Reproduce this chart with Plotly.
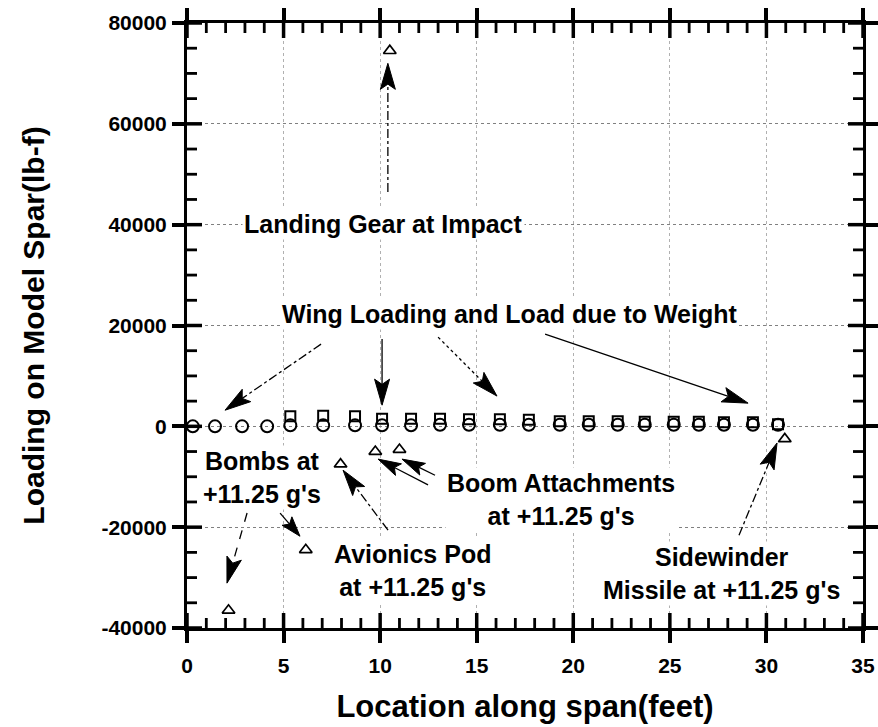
import math
import plotly.graph_objects as go

# ---------------- data ----------------
x_circle = [0.3, 1.45, 2.85, 4.15, 5.35, 7.05, 8.7, 10.1, 11.6, 13.1, 14.6,
            16.2, 17.7, 19.3, 20.8, 22.3, 23.7, 25.2, 26.5, 27.8, 29.3, 30.6]
y_circle = [0, 0, 0, 0, 200, 200, 200, 200, 200, 300, 300,
            300, 300, 300, 300, 300, 300, 300, 300, 300, 300, 300]

x_square = [5.35, 7.05, 8.7, 10.1, 11.6, 13.1, 14.6, 16.2, 17.7,
            19.3, 20.8, 22.3, 23.7, 25.2, 26.5, 27.8, 29.3, 30.6]
y_square = [2000, 2100, 2000, 1500, 1500, 1500, 1400, 1400, 1300,
            1000, 1000, 1000, 900, 900, 900, 800, 800, 400]

x_triangle = [2.15, 6.15, 7.95, 9.75, 10.5, 11.0, 30.95]
y_triangle = [-36500, -24500, -7500, -5000, 74500, -4600, -2500]

x_ticks = [0, 5, 10, 15, 20, 25, 30, 35]
x_tick_labels = ["0", "5", "10", "15", "20", "25", "30", "35"]
y_ticks = [-40000, -20000, 0, 20000, 40000, 60000, 80000]
y_tick_labels = ["-40000", "-20000", "0", "20000", "40000", "60000", "80000"]

x_title = "Location along span(feet)"
y_title = "Loading on Model Spar(lb-f)"

# ---------------- layout geometry ----------------
W, H = 878, 727
ML, MR, MT, MB = 187, 15, 23, 99
X_RANGE = [0, 35]
Y_RANGE = [-40000, 80000]
PW = W - ML - MR
PH = H - MT - MB
X_MINOR_STEP = 1
Y_MINOR_STEP = 5000

FONT = "Liberation Sans, Arial, Helvetica, sans-serif"


def to_px(x, y):
    px = ML + (x - X_RANGE[0]) / (X_RANGE[1] - X_RANGE[0]) * PW
    py = MT + (Y_RANGE[1] - y) / (Y_RANGE[1] - Y_RANGE[0]) * PH
    return px, py


def to_data(px, py):
    x = X_RANGE[0] + (px - ML) / PW * (X_RANGE[1] - X_RANGE[0])
    y = Y_RANGE[1] - (py - MT) / PH * (Y_RANGE[1] - Y_RANGE[0])
    return x, y


shapes = []

# ---------------- inner tick halves + minor ticks as data-referenced line shapes ----------------
MAJ_IN, MIN_IN = 15, 10
MAJ_W, MIN_W = 3.5, 2.8
dy_px = (Y_RANGE[1] - Y_RANGE[0]) / PH
dx_px = (X_RANGE[1] - X_RANGE[0]) / PW

x_all = [X_RANGE[0] + i * X_MINOR_STEP
         for i in range(int(round((X_RANGE[1] - X_RANGE[0]) / X_MINOR_STEP)) + 1)]
y_all = [Y_RANGE[0] + i * Y_MINOR_STEP
         for i in range(int(round((Y_RANGE[1] - Y_RANGE[0]) / Y_MINOR_STEP)) + 1)]

for xv in x_all:
    major = xv in x_ticks
    ln = MAJ_IN if major else MIN_IN
    w = MAJ_W if major else MIN_W
    shapes.append(dict(type="line", xref="x", yref="y", x0=xv, x1=xv,
                       y0=Y_RANGE[0], y1=Y_RANGE[0] + ln * dy_px,
                       line=dict(color="black", width=w)))
    shapes.append(dict(type="line", xref="x", yref="y", x0=xv, x1=xv,
                       y0=Y_RANGE[1], y1=Y_RANGE[1] - ln * dy_px,
                       line=dict(color="black", width=w)))
for yv in y_all:
    major = yv in y_ticks
    ln = MAJ_IN if major else MIN_IN
    w = MAJ_W if major else MIN_W
    shapes.append(dict(type="line", xref="x", yref="y", y0=yv, y1=yv,
                       x0=X_RANGE[0], x1=X_RANGE[0] + ln * dx_px,
                       line=dict(color="black", width=w)))
    shapes.append(dict(type="line", xref="x", yref="y", y0=yv, y1=yv,
                       x0=X_RANGE[1], x1=X_RANGE[1] - ln * dx_px,
                       line=dict(color="black", width=w)))


# ---------------- arrows ----------------
def add_arrow(tail, tip, dash="solid", head_len=26, head_w=15, lw=1.3):
    tx, ty = to_px(*tail)
    hx, hy = to_px(*tip)
    dx, dy = hx - tx, hy - ty
    d = math.hypot(dx, dy)
    ux, uy = dx / d, dy / d
    nx, ny = -uy, ux
    bx, by = hx - head_len * ux, hy - head_len * uy
    p1 = (bx + head_w / 2 * nx, by + head_w / 2 * ny)
    p2 = (hx - 0.8 * head_len * ux, hy - 0.8 * head_len * uy)
    p3 = (bx - head_w / 2 * nx, by - head_w / 2 * ny)
    lx, ly = to_data(*p2)
    shapes.append(dict(type="line", xref="x", yref="y",
                       x0=tail[0], y0=tail[1], x1=lx, y1=ly,
                       line=dict(color="black", width=lw, dash=dash)))
    pts = [to_data(hx, hy), to_data(*p1), to_data(*p2), to_data(*p3)]
    path = "M " + " L ".join(f"{px:.5f},{py:.2f}" for px, py in pts) + " Z"
    shapes.append(dict(type="path", xref="x", yref="y", path=path,
                       fillcolor="black", line=dict(color="black", width=1)))


add_arrow((10.4, 46500), (10.4, 72000), "dashdot")           # landing gear
add_arrow((6.94, 16300), (1.97, 3200), "dashdot")            # wing 1
add_arrow((10.1, 17300), (10.1, 4200), "solid")              # wing 2
add_arrow((13.0, 17700), (16.05, 6000), "dot")               # wing 3
add_arrow((18.54, 18300), (29.05, 4600), "solid")            # wing 4
add_arrow((3.11, -17200), (2.07, -31100), "dash")            # bombs a
add_arrow((4.82, -17200), (5.85, -21800), "solid", 20, 13)   # bombs b
add_arrow((10.41, -20600), (8.08, -8700), "dashdot")         # avionics
add_arrow((12.48, -11600), (9.89, -6500), "solid", 23, 13)   # boom 1
add_arrow((12.84, -9700), (11.13, -6500), "solid", 23, 13)   # boom 2
add_arrow((28.58, -21600), (30.55, -3300), "dashdot")        # sidewinder

ann_font = dict(family=FONT, size=25, color="black", weight="bold")
texts = [
    (10.15, 40100, "Landing Gear at Impact"),
    (16.7, 22300, "Wing Loading and Load due to Weight"),
    (3.88, -10050, "Bombs at<br>+11.25 g's"),
    (11.7, -28500, "Avionics Pod<br>at +11.25 g's"),
    (19.36, -14600, "Boom Attachments<br>at +11.25 g's"),
    (27.65, -29100, "Sidewinder<br>Missile at +11.25 g's"),
]
annotations = [dict(x=x, y=y, xref="x", yref="y", text=t, showarrow=False,
                    font=ann_font, bgcolor="white", align="center",
                    xanchor="center", yanchor="middle")
               for x, y, t in texts]

fig = go.Figure()

mk_line = dict(color="black", width=2)
fig.add_trace(go.Scatter(x=x_circle, y=y_circle, mode="markers",
                         marker=dict(symbol="circle-open", size=12, color="black", line=mk_line),
                         showlegend=False))
fig.add_trace(go.Scatter(x=x_square, y=y_square, mode="markers",
                         marker=dict(symbol="square-open", size=10, color="black", line=mk_line),
                         showlegend=False))
fig.add_trace(go.Scatter(x=x_triangle, y=y_triangle, mode="markers",
                         marker=dict(symbol="triangle-up-open", size=11, color="black",
                                     line=dict(color="black", width=1.7)),
                         showlegend=False))

tick_font = dict(family=FONT, size=21, color="black", weight="bold")

fig.update_layout(
    width=W, height=H,
    margin=dict(l=ML, r=MR, t=MT, b=MB, autoexpand=False),
    paper_bgcolor="white", plot_bgcolor="white",
    showlegend=False,
    xaxis=dict(range=X_RANGE, tickmode="array", tickvals=x_ticks, ticktext=x_tick_labels,
               ticks="outside", ticklen=12, tickwidth=MAJ_W, tickcolor="black",
               showline=True, linewidth=3, linecolor="black", mirror="ticks",
               showgrid=True, gridcolor="#b0b0b0", griddash="dot", gridwidth=1,
               zeroline=False, tickfont=tick_font, ticklabelstandoff=5,
               title=dict(text=x_title, standoff=20,
                          font=dict(family=FONT, size=31, color="black", weight="bold"))),
    yaxis=dict(range=Y_RANGE, tickmode="array", tickvals=y_ticks, ticktext=y_tick_labels,
               ticks="outside", ticklen=12, tickwidth=MAJ_W, tickcolor="black",
               showline=True, linewidth=3, linecolor="black", mirror="ticks",
               showgrid=True, gridcolor="#808080", griddash="dot", gridwidth=1,
               zeroline=False, tickfont=tick_font, ticklabelstandoff=1,
               title=dict(text=y_title, standoff=48,
                          font=dict(family=FONT, size=30, color="black", weight="bold"))),
    shapes=shapes,
    annotations=annotations,
)

fig.write_html("out.html", config={"displayModeBar": False},
               post_script="document.body.style.margin='0';document.body.style.overflow='hidden';")
